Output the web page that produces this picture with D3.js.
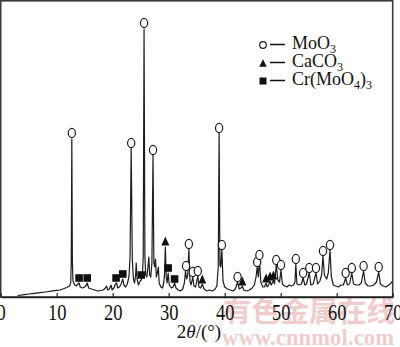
<!DOCTYPE html>
<html>
<head>
<meta charset="utf-8">
<script src="https://cdn.jsdelivr.net/npm/d3@7"></script>
<style>
  html, body { margin: 0; padding: 0; background: #fff; }
  svg { display: block; }
</style>
</head>
<body>
<svg id="chart" width="400" height="347"></svg>
<script>
// XRD pattern: [2θ (°), intensity (a.u.)]
const pattern = [
  [3.0, 1.5], [4.0, 2.2], [5.0, 3.0], [6.0, 3.6], [7.0, 4.3], [8.0, 5.0], [9.0, 5.8],
  [10.0, 6.6], [10.6, 7.0], [11.2, 8.2], [11.8, 9.5], [12.3, 11], [12.5, 14], [12.6, 35],
  [12.7, 158], [12.8, 35], [12.9, 16], [13.2, 12], [13.5, 11], [13.8, 13], [14.0, 14],
  [14.2, 10], [14.6, 9], [15.0, 10], [15.3, 12], [15.45, 14], [15.7, 9], [16.2, 8],
  [16.8, 7], [17.3, 6], [17.8, 6.5], [18.3, 7], [18.7, 9], [18.9, 11], [19.1, 7],
  [19.4, 8], [19.7, 12], [19.9, 7], [20.2, 9], [20.5, 13], [20.7, 14], [20.9, 9],
  [21.2, 10], [21.5, 13], [21.8, 18], [22.0, 12], [22.3, 10], [22.6, 13], [22.9, 20],
  [23.1, 40], [23.3, 149], [23.5, 38], [23.7, 18], [23.9, 14], [24.1, 22], [24.2, 34],
  [24.35, 18], [24.6, 12], [24.9, 16], [25.1, 17], [25.3, 22], [25.45, 40], [25.6, 268],
  [25.75, 40], [25.9, 22], [26.1, 20], [26.3, 30], [26.45, 40], [26.6, 22], [26.8, 20],
  [27.0, 34], [27.2, 142], [27.35, 34], [27.5, 30], [27.65, 38], [27.8, 20], [28.0, 25],
  [28.15, 30], [28.3, 14], [28.6, 10], [28.9, 9], [29.1, 14], [29.25, 22], [29.4, 50],
  [29.55, 20], [29.7, 14], [29.9, 24], [30.1, 12], [30.5, 9], [30.8, 10], [31.05, 14],
  [31.3, 9], [31.7, 7], [32.1, 6], [32.5, 8], [32.8, 14], [33.0, 26], [33.2, 18],
  [33.4, 22], [33.6, 48], [33.8, 16], [34.0, 12], [34.3, 20], [34.5, 11], [34.8, 10],
  [35.2, 21], [35.4, 10], [35.7, 9], [36.0, 13], [36.3, 8], [36.8, 6], [37.3, 7],
  [37.8, 6], [38.3, 8], [38.6, 11], [38.85, 30], [39.0, 164], [39.15, 32], [39.3, 30],
  [39.5, 47], [39.7, 16], [40.0, 10], [40.5, 8], [41.0, 7], [41.5, 6], [41.9, 8],
  [42.3, 15], [42.6, 8], [42.9, 9], [43.15, 11], [43.4, 7], [43.9, 6], [44.4, 7],
  [44.9, 9], [45.3, 12], [45.6, 20], [45.8, 30], [46.0, 20], [46.2, 37], [46.45, 15],
  [46.8, 10], [47.1, 10], [47.4, 14], [47.6, 10], [47.85, 12], [48.1, 16], [48.3, 12],
  [48.5, 14], [48.7, 17], [48.9, 13], [49.2, 32], [49.5, 17], [49.8, 15], [50.05, 27],
  [50.3, 13], [50.7, 11], [51.1, 10], [51.5, 12], [51.9, 11], [52.3, 12], [52.55, 15],
  [52.7, 33], [52.9, 13], [53.3, 12], [53.7, 13], [54.0, 19], [54.3, 12], [54.6, 13],
  [55.1, 24], [55.4, 12], [55.8, 13], [56.3, 24], [56.6, 13], [57.0, 16], [57.3, 22],
  [57.55, 41], [57.8, 22], [58.2, 18], [58.5, 24], [58.8, 47], [59.05, 20], [59.4, 12],
  [59.8, 11], [60.3, 10], [60.8, 12], [61.2, 12], [61.6, 19], [61.9, 12], [62.3, 13],
  [62.7, 24], [63.0, 13], [63.5, 12], [64.0, 12], [64.4, 14], [64.8, 26], [65.1, 14],
  [65.6, 11], [66.1, 11], [66.6, 12], [67.1, 15], [67.5, 25], [67.8, 13], [68.3, 11],
  [68.8, 10], [69.3, 12], [69.7, 14], [70.0, 16]
];

// Phase markers: [2θ (°), marker height (a.u.)]
const moo3Peaks = [
  [12.7, 164], [23.3, 154], [25.6, 274], [27.2, 147], [33.1, 31], [33.6, 53],
  [34.3, 25], [35.2, 26], [39.0, 169], [39.5, 52], [42.3, 20], [45.8, 35],
  [46.2, 42], [49.2, 37], [50.05, 32], [52.7, 38], [54.0, 24], [55.1, 29],
  [56.3, 29], [57.55, 46], [58.8, 52], [61.6, 24], [62.7, 29], [64.8, 31], [67.5, 30]
];
const caco3Peaks = [
  [29.4, 56], [36.0, 18], [43.15, 16], [47.4, 19], [48.1, 21], [48.7, 22]
];
const crMoO4Peaks = [
  [14.0, 19], [15.45, 19], [20.6, 19], [21.8, 23], [25.1, 22], [29.9, 29], [31.05, 18]
];

const xTicks = [0, 10, 20, 30, 40, 50, 60, 70];

const svg = d3.select("#chart");
const serif = "'Liberation Serif', 'Times New Roman', serif";

const x = d3.scaleLinear().domain([0, 70]).range([0.7, 392.7]);
const y = d3.scaleLinear().domain([0, 297]).range([297, 0]);

// Site watermark
const wm = svg.append("g").attr("fill", "#f0cccc");
wm.append("text")
  .attr("x", 223).attr("y", 322)
  .attr("font-family", "'Noto Sans CJK SC', sans-serif")
  .attr("font-weight", 700)
  .attr("font-size", 28.5)
  .attr("textLength", 172)
  .text("有色金属在线");
wm.append("text")
  .attr("x", 222).attr("y", 345)
  .attr("font-family", serif)
  .attr("font-weight", 700)
  .attr("font-size", 22.5)
  .attr("textLength", 172)
  .text("www.cnnmol.com");

// Diffraction curve
svg.append("path")
  .datum(pattern)
  .attr("fill", "none")
  .attr("stroke", "#1c1c1c")
  .attr("stroke-width", 1.2)
  .attr("stroke-linejoin", "round")
  .attr("d", d3.line().x(d => x(d[0])).y(d => y(d[1])));

// Markers
const tri = (cx, cy, w, h) =>
  `M${cx},${cy - h / 2}L${cx + w / 2},${cy + h / 2}L${cx - w / 2},${cy + h / 2}Z`;

svg.append("g").selectAll("path")
  .data(caco3Peaks).join("path")
  .attr("d", d => tri(x(d[0]), y(d[1]), 8, 9))
  .attr("fill", "#111");

svg.append("g").selectAll("rect")
  .data(crMoO4Peaks).join("rect")
  .attr("x", d => x(d[0]) - 3.8).attr("y", d => y(d[1]) - 3.8)
  .attr("width", 7.6).attr("height", 7.6)
  .attr("fill", "#111");

svg.append("g").selectAll("ellipse")
  .data(moo3Peaks).join("ellipse")
  .attr("cx", d => x(d[0])).attr("cy", d => y(d[1]))
  .attr("rx", 3.6).attr("ry", 4.6)
  .attr("fill", "#fff")
  .attr("stroke", "#1c1c1c")
  .attr("stroke-width", 1.2);

// Frame
svg.append("rect")
  .attr("x", x(0)).attr("y", 0.8)
  .attr("width", x(70) - x(0)).attr("height", y(0) - 0.8)
  .attr("fill", "none")
  .attr("stroke", "#3a3a3a")
  .attr("stroke-width", 1.6);

// Bottom axis with inward ticks
const axis = d3.axisBottom(x).tickValues(xTicks).tickSizeInner(-4).tickSizeOuter(0);
const gx = svg.append("g").attr("transform", `translate(0,${y(0)})`).call(axis);
gx.select(".domain").attr("stroke", "#222").attr("stroke-width", 1.6);
gx.selectAll(".tick line").attr("stroke", "#222").attr("stroke-width", 1.2);
gx.selectAll(".tick text")
  .attr("y", 0).attr("dy", null)
  .attr("transform", "translate(0,23) scale(1,1.2)")
  .attr("font-family", serif)
  .attr("font-size", 18.5)
  .attr("fill", "#111");

// Axis title: 2θ/(°)
const title = svg.append("text")
  .attr("x", 199).attr("y", 338)
  .attr("text-anchor", "middle")
  .attr("font-family", serif)
  .attr("font-size", 19)
  .attr("fill", "#111");
title.append("tspan").text("2");
title.append("tspan").attr("font-style", "italic").text("θ");
title.append("tspan").text("/(°)");

// Legend
const legend = svg.append("g").attr("font-family", serif).attr("font-size", 18).attr("fill", "#111");
const rows = [49, 67, 85];
legend.append("circle").attr("cx", 263).attr("cy", 45).attr("r", 3.3)
  .attr("fill", "#fff").attr("stroke", "#1c1c1c").attr("stroke-width", 1.2);
legend.append("path").attr("d", tri(263, 63, 7.5, 7.5)).attr("fill", "#111");
legend.append("rect").attr("x", 259.5).attr("y", 77.5).attr("width", 7).attr("height", 7).attr("fill", "#111");
rows.forEach(r => {
  legend.append("line").attr("x1", 270).attr("x2", 285)
    .attr("y1", r - 4.5).attr("y2", r - 4.5)
    .attr("stroke", "#111").attr("stroke-width", 1.5);
});
const sub = (t, s) => t.append("tspan").attr("font-size", 12).attr("dy", 4).text(s);
const up = t => t;

const l1 = legend.append("text").attr("x", 292).attr("y", rows[0]);
l1.append("tspan").text("MoO");
sub(l1, "3");

const l2 = legend.append("text").attr("x", 292).attr("y", rows[1]);
l2.append("tspan").text("CaCO");
sub(l2, "3");

const l3 = legend.append("text").attr("x", 292).attr("y", rows[2]);
l3.append("tspan").text("Cr(MoO");
sub(l3, "4");
l3.append("tspan").attr("dy", -4).text(")");
sub(l3, "3");
</script>
</body>
</html>
